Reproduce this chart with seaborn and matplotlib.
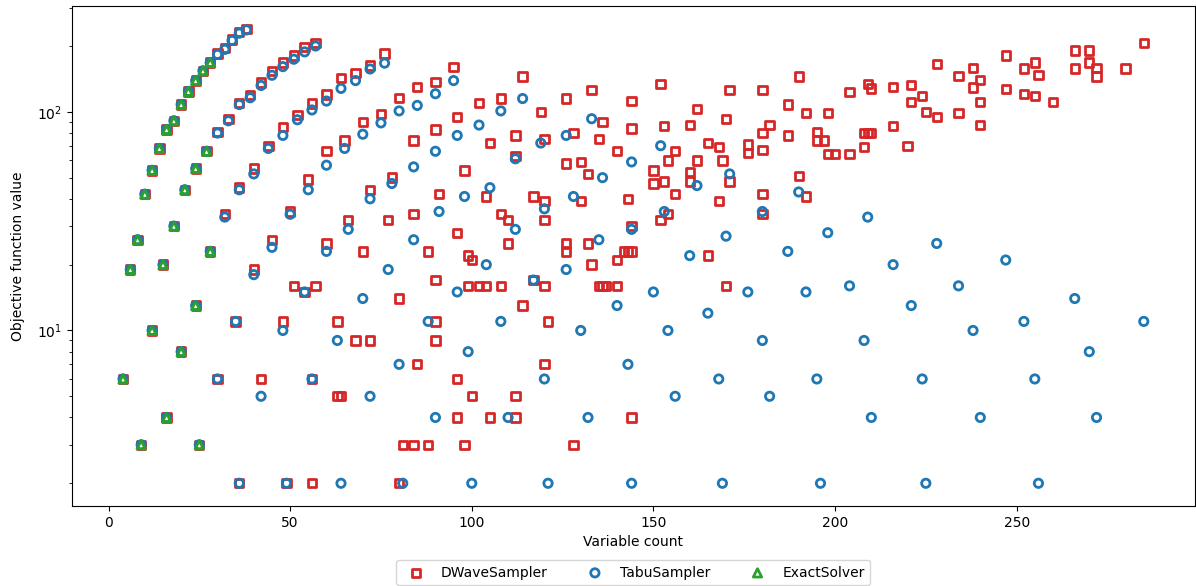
import matplotlib
matplotlib.use("Agg")
import matplotlib.pyplot as plt
import seaborn as sns

# ---------------- data ----------------
dwave_x = [
    4, 6, 8, 10, 12, 14, 16, 18, 20, 22, 24, 26, 28, 30, 32, 34, 36, 38,
    9, 12, 15, 18, 21, 24, 27, 30, 33, 36, 39, 42, 45, 48, 51, 54, 57,
    16, 20, 24, 28, 32, 36, 40, 44, 48, 52, 56, 60, 64, 68, 72, 76,
    25, 30, 35, 40, 45, 50, 55, 60, 65, 70, 75, 80, 85, 90, 95,
    36, 42, 48, 54, 60, 66, 72, 78, 84, 90, 96, 102, 108, 114,
    49, 56, 63, 70, 77, 84, 91, 98, 105, 112, 119, 126, 133,
    51, 57, 56, 63, 64, 68, 72, 80, 80, 81, 84, 85, 88, 88, 90, 90, 90,
    96, 96, 96, 98, 99, 99, 100, 100, 102, 104, 104, 105, 108, 108, 110, 110,
    112, 112, 112, 114, 117, 117, 120, 120, 120, 120, 120, 121, 126, 126, 126,
    128, 128, 130, 130, 132, 132, 133, 135, 136, 137, 135, 136, 140, 140, 140,
    142, 143, 144, 143, 144, 144, 144, 144, 150, 150, 152, 152, 153, 153, 154,
    154, 156, 156, 160, 160, 160, 162, 162, 165, 165, 168, 168, 169, 170, 170,
    171, 171, 176, 176, 180, 180, 180, 180, 180, 182, 187, 187, 190, 190, 192,
    192, 195, 195, 197, 198, 198, 200, 204, 204, 208, 208, 209, 210, 209, 210,
    216, 216, 220, 221, 221, 224, 225, 228, 228, 234, 234, 238, 238, 240, 240,
    240, 247, 247, 252, 252, 255, 255, 256, 260, 266, 266, 270, 270, 272, 272,
    280, 285,
]
dwave_y = [
    6, 19, 26, 42, 54, 68, 83, 91, 108, 124, 139, 154, 168, 185, 196, 214, 232, 240,
    3, 10, 20, 30, 44, 55, 66, 81, 93, 110, 119, 136, 154, 168, 181, 198, 207,
    4, 8, 13, 23, 34, 45, 55, 70, 85, 97, 109, 120, 143, 150, 163, 185,
    3, 6, 11, 19, 26, 35, 49, 66, 74, 90, 98, 116, 130, 137, 160,
    2, 6, 11, 15, 25, 32, 44, 50, 74, 83, 95, 110, 115, 145,
    2, 6, 11, 23, 32, 34, 42, 54, 72, 78, 100, 115, 126,
    16, 16, 2, 5, 5, 9, 9, 2, 14, 3, 3, 7, 3, 23, 9, 11, 17,
    4, 6, 28, 3, 16, 22, 5, 21, 16, 16, 41, 4, 16, 34, 25, 32,
    4, 5, 63, 13, 17, 41, 7, 16, 32, 39, 75, 11, 23, 25, 58,
    3, 80, 39, 59, 25, 52, 20, 16, 16, 16, 75, 90, 16, 21, 66,
    23, 23, 23, 40, 4, 30, 84, 112, 47, 54, 32, 134, 48, 86, 34,
    60, 42, 66, 48, 53, 87, 60, 103, 22, 72, 39, 69, 60, 16, 93,
    48, 126, 65, 71, 34, 42, 67, 80, 126, 87, 78, 108, 51, 145, 41,
    99, 74, 81, 74, 64, 99, 64, 64, 123, 69, 80, 80, 80, 134, 128,
    86, 130, 70, 111, 133, 118, 100, 95, 166, 99, 146, 129, 159, 87, 111,
    140, 127, 181, 121, 158, 118, 168, 147, 111, 158, 191, 168, 191, 145, 159,
    158, 206,
]

tabu_x = [
    4, 6, 8, 10, 12, 14, 16, 18, 20, 22, 24, 26, 28, 30, 32, 34, 36, 38,
    9, 12, 15, 18, 21, 24, 27, 30, 33, 36, 39, 42, 45, 48, 51, 54, 57,
    16, 20, 24, 28, 32, 36, 40, 44, 48, 52, 56, 60, 64, 68, 72, 76,
    25, 30, 35, 40, 45, 50, 55, 60, 65, 70, 75, 80, 85, 90, 95,
    36, 42, 48, 54, 60, 66, 72, 78, 84, 90, 96, 102, 108, 114,
    49, 56, 63, 70, 77, 84, 91, 98, 105, 112, 119, 126, 133,
    64, 72, 80, 88, 96, 104, 112, 120, 128, 136, 144, 152,
    81, 90, 99, 108, 117, 126, 135, 144, 153, 162, 171,
    100, 110, 120, 130, 140, 150, 160, 170, 180, 190,
    121, 132, 143, 154, 165, 176, 187, 198, 209,
    144, 156, 168, 180, 192, 204, 216, 228,
    169, 182, 195, 208, 221, 234, 247,
    196, 210, 224, 238, 252, 266,
    225, 240, 255, 270, 285,
    256, 272,
]
tabu_y = [
    6, 19, 26, 42, 54, 68, 83, 91, 108, 124, 139, 154, 168, 183, 193, 212, 229, 237,
    3, 10, 20, 30, 44, 55, 66, 80, 91, 108, 116, 132, 147, 161, 174, 188, 200,
    4, 8, 13, 23, 33, 44, 52, 68, 78, 92, 102, 112, 128, 139, 157, 167,
    3, 6, 11, 18, 24, 34, 44, 57, 68, 79, 89, 101, 107, 121, 139,
    2, 5, 10, 15, 23, 29, 40, 47, 56, 66, 78, 87, 101, 115,
    2, 6, 9, 14, 19, 26, 35, 41, 45, 61, 72, 78, 93,
    2, 5, 7, 11, 15, 20, 29, 36, 41, 50, 59, 70,
    2, 4, 8, 11, 17, 19, 26, 29, 35, 46, 52,
    2, 4, 6, 10, 13, 15, 22, 27, 35, 43,
    2, 4, 7, 10, 12, 15, 23, 28, 33,
    2, 5, 6, 9, 15, 16, 20, 25,
    2, 5, 6, 9, 13, 16, 21,
    2, 4, 6, 10, 11, 14,
    2, 4, 6, 8, 11,
    2, 4,
]

exact_x = [4, 6, 8, 9, 10, 12, 12, 14, 15, 16, 16, 18, 18, 20, 20, 21, 22,
           24, 24, 24, 25, 26, 27, 28, 28]
exact_y = [6, 19, 26, 3, 42, 10, 54, 68, 20, 4, 83, 30, 91, 8, 108, 44, 124,
           13, 55, 139, 3, 154, 66, 23, 168]

solver_names = ["DWaveSampler", "TabuSampler", "ExactSolver"]
solver_colors = ["#d62728", "#1f77b4", "#2ca02c"]
solver_markers = ["s", "o", "^"]

# ---------------- figure ----------------
fig, ax = plt.subplots(figsize=(11.96, 5.86), dpi=100)
fig.subplots_adjust(left=0.0602, right=0.999, top=0.9898, bottom=0.1365)

series = [(dwave_x, dwave_y), (tabu_x, tabu_y), (exact_x, exact_y)]
for (xs, ys), name, col, mk in zip(series, solver_names, solver_colors, solver_markers):
    sns.scatterplot(x=xs, y=ys, marker=mk, s=36, color=col, linewidth=2,
                    ax=ax, label=name, legend=False)
    coll = ax.collections[-1]
    coll.set_facecolor("none")
    coll.set_edgecolor(col)
    coll.set_linewidth(2)

ax.set_yscale("log")
ax.set_xlabel("Variable count")
ax.set_ylabel("Objective function value", labelpad=9)
ax.legend(loc="upper center", bbox_to_anchor=(0.5, -0.094), ncol=3,
          frameon=True, columnspacing=2.4)

fig.savefig("out.png", dpi=100)
